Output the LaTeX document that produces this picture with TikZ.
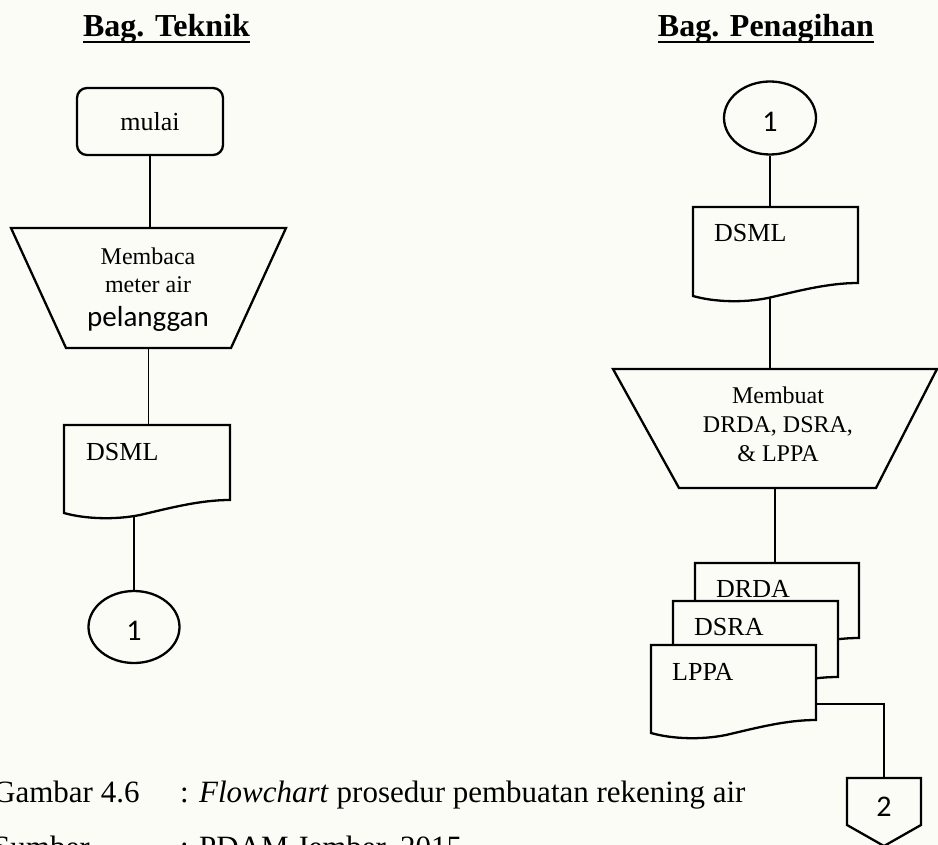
\documentclass[tikz,border=0pt]{standalone}
\usepackage{fontspec}
\setmainfont{Liberation Serif}
\newfontfamily\carl{Carlito}
\usetikzlibrary{shapes.geometric,calc}
\definecolor{paper}{RGB}{252,252,247}

\pgfdeclarelayer{paperlayer}
\pgfdeclarelayer{links}
\pgfsetlayers{paperlayer,links,main}

\tikzset{
  frame/.style={draw=none, inner sep=0pt, outer sep=0pt},
  outline/.style={draw=black, line width=2.3pt, fill=paper, line join=miter},
  link/.style={draw=black, line width=1.2pt},
  boldlink/.style={draw=black, line width=2pt},
  heading/.style={inner sep=0pt, anchor=base, font=\fontsize{32}{38}\selectfont\bfseries},
  doctext/.style={inner sep=0pt, anchor=base west, font=\fontsize{26}{30}\selectfont},
  boxtext/.style={inner sep=0pt, align=center, font=\fontsize{24}{28}\selectfont},
  digit/.style={font=\carl\fontsize{30}{36}\selectfont},
  connector/.style={ellipse, draw=black, line width=2.3pt, fill=paper, inner sep=0pt,
    digit, text height=27.5pt},
  caption/.style={inner sep=0pt, anchor=base west, font=\fontsize{31}{36}\selectfont},
}

% document symbol: flat top, wavy bottom edge (frame node gives the box up to the right-hand foot)
\newcommand\docpath[1]{%
  \path[outline] (#1.north west) -- (#1.north east) -- (#1.south east)
    .. controls +(-30,0) and +(30,-7) .. ++(-90,15)
    .. controls +(-25,5) and +(21,6) .. ([yshift=-13pt]#1.south west) -- cycle;}

% manual operation symbol: trapezoid, wide side on top
\newcommand\manualpath[3]{%
  \path[outline] (#1.north west) -- (#1.north east) -- ([xshift=-#3]#1.south east)
    -- ([xshift=#2]#1.south west) -- cycle;}

\begin{document}
\begin{tikzpicture}[x=1pt, y=-1pt]
\begin{pgfonlayer}{paperlayer}
  \fill[paper] (0,0) rectangle (938,845);
\end{pgfonlayer}
\useasboundingbox (0,0) rectangle (938,845);

% ---------------- Bag. Teknik ----------------
\node[heading] (hTek) at (166.5,37) {Bag. Teknik};
\draw[line width=2pt] ([yshift=-5pt]hTek.base west) -- ([yshift=-5pt]hTek.base east);

\node[draw=black, line width=2.3pt, fill=paper, rounded corners=10pt, minimum width=146pt,
      minimum height=67pt, inner sep=0pt, font=\fontsize{26}{30}\selectfont]
      (mulai) at (150,121.5) {mulai};

\node[frame, minimum width=275pt, minimum height=120pt] (baca) at (148.5,288) {};
\manualpath{baca}{55pt}{55pt}
\node[boxtext] (bacaText) at (148,290)
  {Membaca\\meter air\\[6pt]{\carl\fontsize{29}{34}\selectfont pelanggan}};

\node[frame, minimum width=166pt, minimum height=75pt] (dsmlA) at (147,462.5) {};
\docpath{dsmlA}
\node[doctext] (dsmlAText) at ([xshift=22pt,yshift=-35pt]dsmlA.north west) {DSML};

\node[connector, minimum width=91pt, minimum height=72pt, text height=27pt] (oneA) at (134,627) {1};

% ---------------- Bag. Penagihan ----------------
\node[heading] (hPen) at (766,37) {Bag. Penagihan};
\draw[line width=2pt] ([yshift=-5pt]hPen.base west) -- ([yshift=-5pt]hPen.base east);

\node[connector, minimum width=92pt, minimum height=73pt, text height=28pt] (oneB) at (770,118) {1};

\node[frame, minimum width=165pt, minimum height=76pt] (dsmlB) at (775.5,245) {};
\docpath{dsmlB}
\node[doctext] (dsmlBText) at ([xshift=21pt,yshift=-35pt]dsmlB.north west) {DSML};

\node[frame, minimum width=324pt, minimum height=119pt] (buat) at (775,428.5) {};
\manualpath{buat}{66pt}{61pt}
\node[boxtext, font=\fontsize{24}{29}\selectfont] (buatText) at (778,424)
  {Membuat\\DRDA, DSRA,\\\& LPPA};

\node[frame, minimum width=164pt, minimum height=75pt] (drda) at (777,600.5) {};
\docpath{drda}
\node[doctext] (drdaText) at ([xshift=21pt,yshift=-34pt]drda.north west) {DRDA};

\node[frame, minimum width=165pt, minimum height=76pt] (dsra) at (755.5,639) {};
\docpath{dsra}
\node[doctext] (dsraText) at ([xshift=21pt,yshift=-34pt]dsra.north west) {DSRA};

\node[frame, minimum width=165pt, minimum height=75pt] (lppa) at (733.5,682.5) {};
\docpath{lppa}
\node[doctext] (lppaText) at ([xshift=21pt,yshift=-35pt]lppa.north west) {LPPA};

% off-page connector
\node[frame, minimum width=74pt, minimum height=47pt] (two) at (884,801.5) {};
\path[outline] (two.north west) -- (two.north east) -- (two.south east)
  -- ([yshift=-21pt]two.south) -- (two.south west) -- cycle;
\node[frame, digit, text height=30pt] (twoText) at (two.center) {2};

% ---------------- connectors ----------------
\begin{pgfonlayer}{links}
  \draw[link] (mulai.south) -- (mulai.south |- baca.north);
  \draw[link] (baca.south) -- (baca.south |- dsmlA.north);
  \draw[link] (oneA.north |- dsmlA.center) -- (oneA.north);
  \draw[boldlink] (oneB.south) -- (oneB.south |- dsmlB.north);
  \draw[boldlink] (oneB.south |- dsmlB.center) -- (oneB.south |- buat.north);
  \draw[boldlink] (buat.south) -- (buat.south |- drda.north);
  \draw[link] ([yshift=-21.5pt]lppa.east) -| (two.north);
\end{pgfonlayer}

% ---------------- caption ----------------
\node[caption] (capLabel) at (-7,802) {Gambar 4.6};
\node[caption] (capText) at (180,802) {: \textit{Flowchart} prosedur pembuatan rekening air};
\node[caption] (srcLabel) at (-7,857) {Sumber};
\node[caption] (srcText) at (180,857) {: PDAM Jember, 2015};
\end{tikzpicture}
\end{document}
